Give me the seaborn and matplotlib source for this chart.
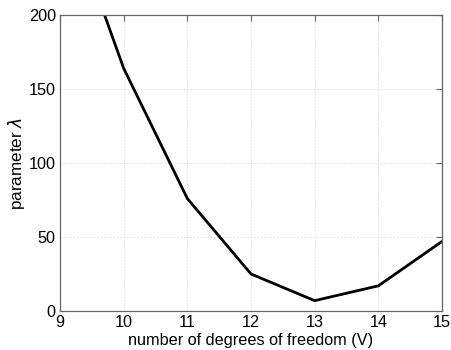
import matplotlib
matplotlib.use("Agg")
import matplotlib.pyplot as plt
import seaborn as sns
import pandas as pd

dof = [9, 10, 11, 12, 13, 14, 15]
lam = [284, 164, 76, 25, 7, 17, 47]
xticks = [9, 10, 11, 12, 13, 14, 15]
yticks = [0, 50, 100, 150, 200]

sns.set_theme(style="white")
plt.rcParams['font.family'] = ['Liberation Sans', 'DejaVu Sans']
plt.rcParams['mathtext.fontset'] = 'dejavusans'
plt.rcParams['text.color'] = 'black'
plt.rcParams['axes.labelcolor'] = 'black'

df = pd.DataFrame({"dof": dof, "lam": lam})
fig = plt.figure(figsize=(4.52, 3.5), dpi=100)
ax = fig.add_axes([60/452, 1 - 311/350, (442-60)/452, (311-15)/350])
sns.lineplot(data=df, x="dof", y="lam", ax=ax, color="black", linewidth=2.0)
ax.set_xlim(9, 15)
ax.set_ylim(0, 200)
ax.set_xticks(xticks)
ax.set_yticks(yticks)
ax.grid(True, color="#dcdcdc", linestyle=(0, (2, 2)), linewidth=0.6)
for s in ax.spines.values():
    s.set_color("#666666")
    s.set_linewidth(0.9)
ax.tick_params(direction="in", length=4, width=0.8, color="#666666",
               top=True, right=True, labelsize=11.7, labelcolor="black", pad=3)
ax.set_xlabel("number of degrees of freedom (V)", fontsize=11.7, labelpad=2, color="black")
ax.set_ylabel(r"parameter $\lambda$", fontsize=12.3, labelpad=1, color="black")
fig.savefig("out.png", dpi=100)
